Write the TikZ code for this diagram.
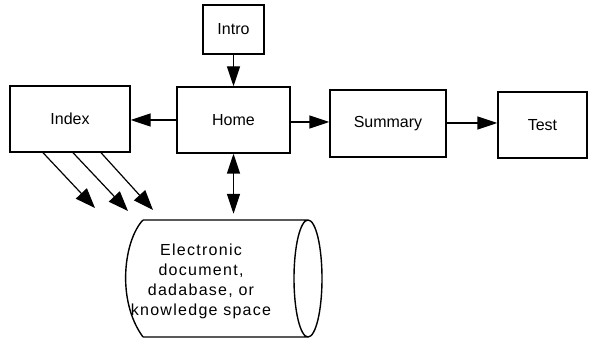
\documentclass[tikz,border=0pt]{standalone}
\usepackage{fontspec}
\setmainfont{Liberation Sans}
\usetikzlibrary{arrows.meta}
\begin{document}
\begin{tikzpicture}[x=1pt,y=-1pt,
  box/.style={draw,line width=1.4pt,rectangle,inner sep=0pt,font=\fontsize{16}{20}\selectfont},
  link/.style={line width=1.4pt,-{Triangle[length=20pt,width=13pt]}},
  dlink/.style={line width=1.2pt,-{Triangle[length=20pt,width=15pt]}}]
\useasboundingbox (0,0) rectangle (590,339);
% boxes
\node[box,minimum width=61pt,minimum height=49pt] (intro) at (233.5,29.5) {Intro};
\node[box,minimum width=113pt,minimum height=66pt] (home) at (233.5,120) {Home};
\node[box,minimum width=120pt,minimum height=66pt] (index) at (70,119) {Index};
\node[box,minimum width=116pt,minimum height=67pt] (summary) at (388,123.5) {Summary};
\node[box,minimum width=89pt,minimum height=66pt] (test) at (542.5,125) {Test};
% storage cylinder
\draw[line width=1.4pt] (143,220) -- (308,220)
  arc[start angle=-90,end angle=270,x radius=14,y radius=58.5]
  (308,337) -- (143,337)
  (143,220) .. controls (124,240) and (116,300) .. (143,337);
\node[inner sep=0pt,minimum width=160pt,minimum height=117pt] (db) at (214,278.5) {};
\node[align=center,font=\fontsize{16}{20}\selectfont\addfontfeature{LetterSpace=8},inner sep=0pt] (dbtext) at (201,281)
  {Electronic\\document,\\dadabase, or\\knowledge space};
% connectors
\draw[link] (intro.south) -- (home.north);
\draw[link] (home.west |- 0,120) -- (index.east |- 0,120);
\draw[link] (home.east |- 0,122) -- (summary.west |- 0,122);
\draw[link] (summary.east |- 0,123) -- (test.west |- 0,123);
\draw[line width=1.4pt,{Triangle[length=20pt,width=13pt]}-{Triangle[length=20pt,width=13pt]},shorten >=6pt] (home.south) -- (db.north -| home.south);
% index links into the store
\coordinate (e1) at (95,208);
\coordinate (e2) at (128,211);
\coordinate (e3) at (153,210);
\draw[dlink] (index.south -| 43,0) -- (e1);
\draw[dlink] (index.south -| 73,0) -- (e2);
\draw[dlink] (index.south -| 101,0) -- (e3);
\end{tikzpicture}
\end{document}
